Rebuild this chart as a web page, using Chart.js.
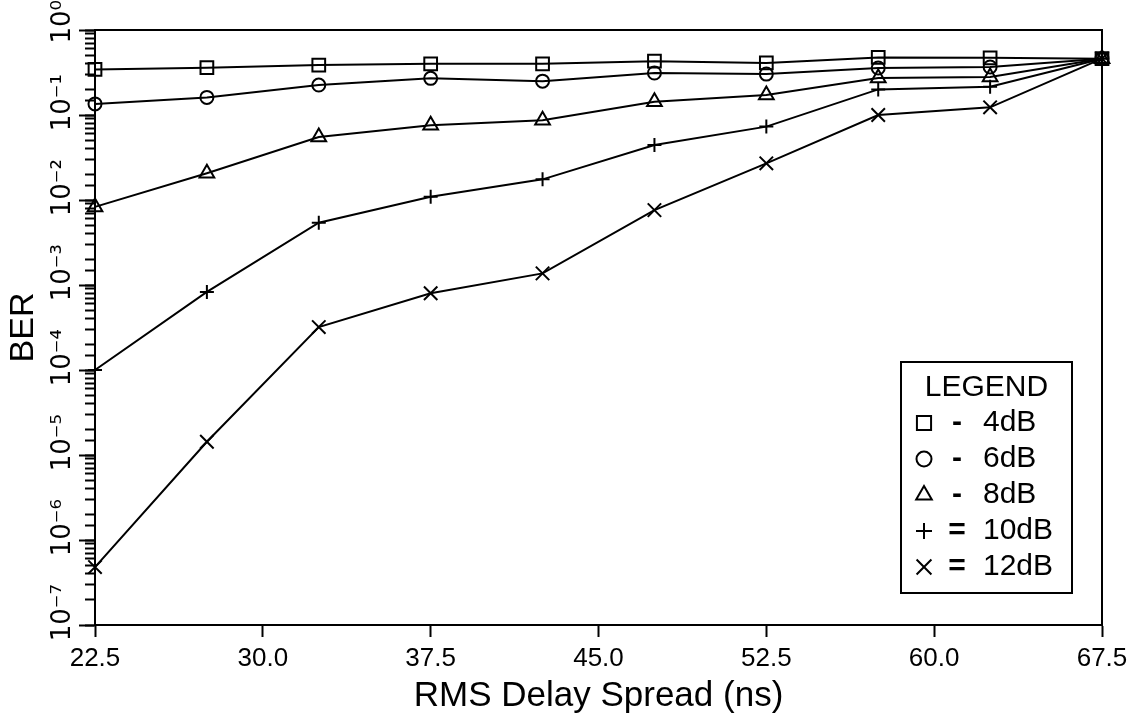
<!DOCTYPE html>
<html><head><meta charset="utf-8">
<script src="https://cdn.jsdelivr.net/npm/chart.js@4.4.1/dist/chart.umd.min.js"></script>
<style>html,body{margin:0;padding:0;background:#fff;}canvas{display:block;}</style>
</head><body>
<canvas id="c" width="1146" height="717"></canvas>
<script>
// ---- data ----
const delaySpread = [22.5, 27.5, 32.5, 37.5, 42.5, 47.5, 52.5, 57.5, 62.5, 67.5];
const seriesLabels = ['4dB', '6dB', '8dB', '10dB', '12dB'];
const ber4dB  = [0.344, 0.36, 0.387, 0.40, 0.40, 0.43, 0.41, 0.475, 0.47, 0.46];
const ber6dB  = [0.135, 0.161, 0.225, 0.27, 0.25, 0.312, 0.303, 0.357, 0.367, 0.46];
const ber8dB  = [0.0083, 0.0206, 0.055, 0.076, 0.087, 0.143, 0.172, 0.272, 0.28, 0.46];
const ber10dB = [1.0e-4, 8.3e-4, 5.4e-3, 0.0109, 0.0175, 0.0444, 0.073, 0.20, 0.215, 0.46];
const ber12dB = [4.8e-7, 1.43e-5, 3.2e-4, 8.0e-4, 1.37e-3, 7.6e-3, 0.027, 0.10, 0.123, 0.46];
const xTickValues = [22.5, 30.0, 37.5, 45.0, 52.5, 60.0, 67.5];
const yMin = 1e-7, yMax = 1;
const xTitle = 'RMS Delay Spread (ns)';
const yTitle = 'BER';
const legendTitle = 'LEGEND';
const legendJoiners = ['-', '-', '-', '=', '='];

const seriesValues = [ber4dB, ber6dB, ber8dB, ber10dB, ber12dB];
const markerStyles = [
  {pointStyle: 'rect', r: 9, lr: 10},
  {pointStyle: 'circle', r: 6.5, lr: 7.5},
  {pointStyle: 'triangle', r: 8.5, lr: 9},
  {pointStyle: 'cross', r: 7, lr: 8},
  {pointStyle: 'crossRot', r: 9.5, lr: 10.5}
];

const SUP = {'0':'⁰','1':'¹','2':'²','3':'³','4':'⁴','5':'⁵','6':'⁶','7':'⁷','8':'⁸','9':'⁹','-':'⁻'};
function supStr(n) { return String(n).split('').map(c => SUP[c]).join(''); }
function isPow10(v) { const e = Math.log10(v); return Math.abs(e - Math.round(e)) < 1e-9; }

const datasets = seriesValues.map((vals, i) => ({
  label: seriesLabels[i],
  data: delaySpread.map((x, j) => ({x: x, y: vals[j]})),
  borderColor: '#000',
  borderWidth: 2,
  tension: 0,
  fill: false,
  pointStyle: markerStyles[i].pointStyle,
  pointRadius: markerStyles[i].r,
  pointHoverRadius: markerStyles[i].r,
  pointBorderWidth: 2,
  pointBorderColor: '#000',
  pointBackgroundColor: 'rgba(0,0,0,0)',
  legendRadius: markerStyles[i].lr,
  clip: false,
  yAxisID: 'y'
}));

const framePlugin = {
  id: 'frame',
  afterDraw(chart) {
    const {ctx, chartArea: a} = chart;
    ctx.save();
    ctx.strokeStyle = '#000';
    ctx.lineWidth = 2;
    ctx.strokeRect(a.left, a.top, a.right - a.left, a.bottom - a.top);
    ctx.restore();
  }
};

function drawMarker(ctx, style, r, x, y) {
  if (Chart.helpers && Chart.helpers.drawPoint) {
    Chart.helpers.drawPoint(ctx, {pointStyle: style, radius: r, rotation: 0, borderWidth: 2}, x, y);
    return;
  }
  ctx.beginPath(); ctx.arc(x, y, r, 0, Math.PI * 2); ctx.stroke();
}

const boxLegendPlugin = {
  id: 'boxLegend',
  afterDraw(chart) {
    const ctx = chart.ctx;
    const L = 901, T = 362, W = 171, H = 231;
    ctx.save();
    ctx.strokeStyle = '#000';
    ctx.fillStyle = '#fff';
    ctx.lineWidth = 2;
    ctx.fillRect(L, T, W, H);
    ctx.strokeRect(L, T, W, H);
    ctx.fillStyle = '#000';
    ctx.font = '30px "Liberation Sans", Arial, sans-serif';
    ctx.textBaseline = 'middle';
    ctx.textAlign = 'center';
    ctx.fillText(legendTitle, L + W / 2, T + 26);
    chart.data.datasets.forEach((ds, i) => {
      const y = T + 61 + i * 36;
      ctx.fillStyle = 'rgba(0,0,0,0)';
      ctx.strokeStyle = '#000';
      ctx.lineWidth = 2;
      drawMarker(ctx, ds.pointStyle, ds.legendRadius, L + 23, y);
      ctx.fillStyle = '#000';
      ctx.textAlign = 'center';
      ctx.font = 'bold 30px "Liberation Sans", Arial, sans-serif';
      ctx.fillText(legendJoiners[i], L + 56, y);
      ctx.textAlign = 'left';
      ctx.font = '30px "Liberation Sans", Arial, sans-serif';
      ctx.fillText(ds.label, L + 82, y);
    });
    ctx.restore();
  }
};

Chart.defaults.color = '#000';
Chart.defaults.font.family = '"Liberation Sans", Arial, sans-serif';

new Chart(document.getElementById('c'), {
  type: 'line',
  data: {datasets: datasets},
  plugins: [framePlugin, boxLegendPlugin],
  options: {
    responsive: false,
    animation: false,
    events: [],
    layout: {padding: {top: 30, right: 44, left: 0, bottom: 0}},
    plugins: {legend: {display: false}, tooltip: {enabled: false}, title: {display: false}},
    scales: {
      x: {
        type: 'linear',
        min: xTickValues[0],
        max: xTickValues[xTickValues.length - 1],
        afterBuildTicks: s => { s.ticks = xTickValues.map(v => ({value: v})); },
        afterFit: s => { s.height = 92; },
        grid: {drawOnChartArea: false, tickLength: 12, tickWidth: 2, tickColor: '#000'},
        border: {display: true, color: '#000', width: 2},
        ticks: {
          autoSkip: false, maxRotation: 0, padding: 6,
          font: {size: 26, family: '"Liberation Sans", Arial, sans-serif'},
          callback: v => Number(v).toFixed(1)
        },
        title: {display: true, text: xTitle, padding: {top: 0, bottom: 0},
          font: {size: 35, family: '"Liberation Sans", Arial, sans-serif'}}
      },
      y: {
        type: 'logarithmic',
        position: 'left',
        weight: 1,
        min: yMin, max: yMax,
        afterBuildTicks: s => { s.ticks = s.ticks.filter(t => isPow10(t.value)); },
        afterFit: s => { s.width = 95; },
        grid: {drawOnChartArea: false, tickLength: 16, tickWidth: 2, tickColor: '#000'},
        border: {display: true, color: '#000', width: 2},
        ticks: {
          autoSkip: false, minRotation: 90, maxRotation: 90, crossAlign: 'center', padding: -25,
          font: {size: 26, family: '"DejaVu Sans", sans-serif'},
          callback: v => {
            const e = Math.round(Math.log10(v));
            return (e < 0 ? '   ' : '  ') + '10' + supStr(e);
          }
        },
        title: {display: true, text: yTitle, padding: {top: 3, bottom: 0},
          font: {size: 34, family: '"Liberation Sans", Arial, sans-serif'}}
      },
      yMinor: {
        type: 'logarithmic',
        position: 'left',
        weight: 0,
        min: yMin, max: yMax,
        afterFit: s => { s.width = 0; },
        grid: {drawOnChartArea: false, tickLength: 10, tickWidth: 2, tickColor: '#000'},
        border: {display: false},
        ticks: {display: false, autoSkip: false}
      }
    }
  }
});
</script>
</body></html>
